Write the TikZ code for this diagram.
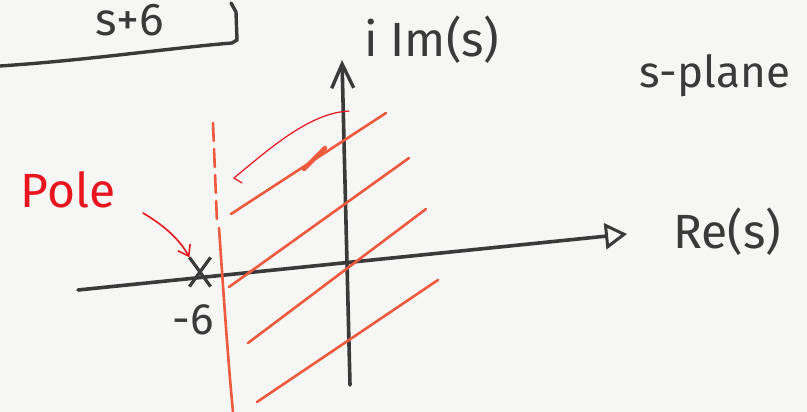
\documentclass[tikz,border=0pt]{standalone}
\usepackage{fontspec}
\setsansfont{Fira Sans}
\usepackage{tikz}
\usetikzlibrary{arrows.meta, positioning, shapes.misc}
\definecolor{ink}{HTML}{3A3A3A}
\definecolor{marker}{HTML}{EE5A3E}
\definecolor{penred}{HTML}{E8141E}
\definecolor{paper}{HTML}{F6F6F4}

\begin{document}
\begin{tikzpicture}[
    x=1pt, y=-1pt,
    every node/.style={font=\sffamily, text=ink, inner sep=0pt},
    axis/.style={line width=3.6pt, color=ink, line cap=round},
    hatch/.style={line width=2.6pt, color=marker, line cap=round},
    note/.style={line width=1.2pt, color=penred, line cap=round},
    big/.style={font=\sffamily\fontsize{48}{52}\selectfont},
    pole/.style={cross out, draw=ink, line width=3.2pt, minimum width=18pt, minimum height=26pt}
]
% Paper
\fill[paper] (0,0) rectangle (807,412);
\useasboundingbox (0,0) rectangle (807,412);

% Transfer function box (cut off at the top)
\draw[axis, line width=3.4pt] (0,66) .. controls (90,60) and (170,48) .. (232,43)
    -- (237,40) -- (236,12) -- (231,3);
\node[big, font=\sffamily\fontsize{46}{50}\selectfont] (tf) at (130,20) {s+6};

% Axes
\coordinate (ybot) at (350,385);
\coordinate (ytop) at (342,60);
\coordinate (xlft) at (78,290);
\coordinate (xrgt) at (627,234);
\draw[axis, -{Straight Barb[length=24pt, width=22pt, line width=3.4pt]}] (ybot) -- (ytop);
\draw[axis, -{Triangle[open, length=22pt, width=26pt, line width=3pt]}] (xlft) -- (xrgt);

% Axis labels
\node[big] (im)    at (432,40)  {i Im(s)};
\node[big] (re)    at (727,232) {Re(s)};
\node[big, font=\sffamily\fontsize{44}{48}\selectfont] (plane) at (715,76) {s-plane};

% Pole at -6
\node[pole] (p) at (200,272) {};
\node[big, font=\sffamily\fontsize{44}{48}\selectfont] (six) at (193,320) {-6};

% Region of convergence
\draw[hatch, dash pattern=on 18pt off 8pt] (213,123) -- (217,222);
\draw[hatch] (219,228) .. controls (224,300) and (228,360) .. (233,412);
\draw[hatch] (231,214) -- (386,113);
\draw[hatch, line width=4.4pt] (304,169) -- (325,148);
\draw[hatch] (229,287) -- (409,158);
\draw[hatch] (248,343) -- (426,209);
\draw[hatch] (257,402) -- (438,280);
\draw[note] (242,183) -- (234,178) .. controls (270,148) and (305,118) .. (340,112) -- (349,111);

% Pole annotation
\node[font=\sffamily\fontsize{48}{52}\selectfont, text=penred] (lbl) at (68,190) {Pole};
\draw[note, line width=1.6pt, -{Straight Barb[length=10pt, width=14pt, line width=1.6pt]}]
    (143,213) .. controls (165,226) and (180,240) .. (p.north west);
\end{tikzpicture}
\end{document}
